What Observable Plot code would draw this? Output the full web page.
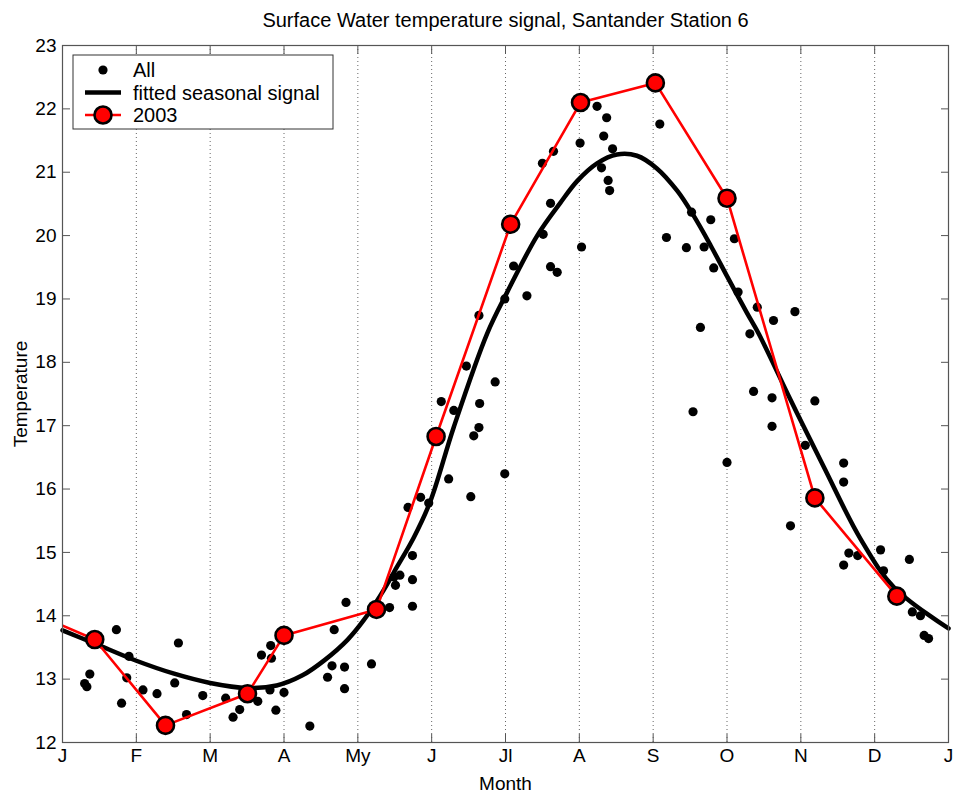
<!DOCTYPE html>
<html>
<head>
<meta charset="utf-8">
<script src="https://cdn.jsdelivr.net/npm/d3@7"></script>
<script src="https://cdn.jsdelivr.net/npm/@observablehq/plot@0.6"></script>
<style>
  html, body { margin: 0; padding: 0; background: #fff; }
</style>
</head>
<body>
<div id="chart"></div>
<script>
// ---- Data (months measured from 1 January, 0..12) ----
const monthTicks = [0, 1, 2, 3, 4, 5, 6, 7, 8, 9, 10, 11, 12];
const monthLabels = ["J", "F", "M", "A", "My", "J", "Jl", "A", "S", "O", "N", "D", "J"];
const tempTicks = [12, 13, 14, 15, 16, 17, 18, 19, 20, 21, 22, 23];

// All observations
const allMonth = [0.30, 0.33, 0.37, 0.73, 0.80, 0.87, 0.90, 1.09, 1.28, 1.52, 1.57, 1.68, 1.90,
  2.21, 2.31, 2.40, 2.645, 2.695, 2.81, 2.82, 2.83, 2.89, 3.00, 3.35, 3.59, 3.65, 3.68, 3.82,
  3.82, 3.84, 4.185, 4.43, 4.49, 4.51, 4.57, 4.74, 4.74, 4.74, 4.68, 4.85, 4.96, 5.13, 5.23,
  5.30, 5.47, 5.53, 5.57, 5.64, 5.65, 5.64, 5.86, 5.99, 5.99, 6.11, 6.29, 6.50, 6.51, 6.61,
  6.61, 6.65, 6.70, 7.01, 7.03, 7.24, 7.30, 7.33, 7.37, 7.39, 7.41, 7.45, 8.09, 8.18, 8.45,
  8.52, 8.54, 8.64, 8.69, 8.78, 8.82, 9.00, 9.10, 9.15, 9.31, 9.36, 9.41, 9.61, 9.61, 9.63,
  9.86, 9.92, 10.06, 10.19, 10.58, 10.58, 10.58, 10.65, 10.77, 11.08, 11.12, 11.47, 11.51,
  11.62, 11.67, 11.73];
const allTemp = [12.93, 12.88, 13.08, 13.78, 12.62, 13.02, 13.36, 12.83, 12.77, 12.94, 13.57, 12.44, 12.74,
  12.70, 12.40, 12.52, 12.65, 13.38, 12.83, 13.53, 13.33, 12.51, 12.79, 12.26, 13.03, 13.21, 13.78, 13.19,
  12.85, 14.21, 13.24, 14.13, 14.61, 14.48, 14.64, 14.57, 14.15, 14.95, 15.71, 15.87, 15.78, 17.38, 16.16,
  17.24, 17.94, 15.88, 16.84, 16.97, 17.35, 18.74, 17.69, 16.24, 19.00, 19.52, 19.05, 21.14, 20.02, 20.51,
  19.51, 21.33, 19.42, 21.46, 19.82, 22.04, 21.07, 21.57, 21.86, 20.87, 20.71, 21.37, 21.76, 19.97, 19.81,
  20.37, 17.22, 18.55, 19.82, 20.25, 19.49, 16.42, 19.95, 19.11, 18.45, 17.54, 18.87, 17.44, 16.99, 18.66,
  15.42, 18.80, 16.69, 17.39, 16.41, 16.11, 14.80, 14.99, 14.95, 15.04, 14.71, 14.89, 14.06,
  14.00, 13.69, 13.64];

// Fitted seasonal signal
const fitMonth = [0, 0.44, 1.0, 1.5, 2.0, 2.5, 2.9, 3.25, 3.55, 3.86, 4.08, 4.31, 4.53, 4.76, 4.98,
  5.30, 5.75, 6.02, 6.43, 6.745, 6.97, 7.24, 7.51, 7.78, 8.05, 8.33, 8.55, 8.78, 9.0,
  9.27, 9.43, 9.86, 10.31, 10.81, 11.26, 12.0];
const fitTemp = [13.77, 13.56, 13.29, 13.09, 12.94, 12.86, 12.90, 13.06, 13.30, 13.62, 13.93, 14.33, 14.77, 15.24, 15.80,
  16.98, 18.45, 19.10, 20.00, 20.52, 20.86, 21.14, 21.28, 21.26, 21.06, 20.70, 20.31, 19.84, 19.36,
  18.78, 18.45, 17.41, 16.35, 15.21, 14.45, 13.80];

// 2003 monthly values (first entry: previous December, drawn outside the axis and clipped)
const m2003 = [-0.70, 0.437, 1.395, 2.506, 3.00, 4.253, 5.06, 6.07, 7.016, 8.03, 9.00, 10.19, 11.30];
const t2003 = [14.20, 13.625, 12.27, 12.77, 13.69, 14.10, 16.83, 20.18, 22.10, 22.41, 20.59, 15.86, 14.31];

// ---- Tables built from the arrays ----
const allData = allMonth.map((m, i) => ({month: m, temp: allTemp[i]}));
const fitData = fitMonth.map((m, i) => ({month: m, temp: fitTemp[i]}));
const data2003 = m2003.map((m, i) => ({month: m, temp: t2003[i]}));
const visible2003 = data2003.filter(d => d.month >= 0);

const frameColor = "#555";
const fontFamily = "'Liberation Sans', Arial, Helvetica, sans-serif";
const tickFont = 19;
const textFont = 20;

const chart = Plot.plot({
  width: 953,
  height: 796,
  marginLeft: 62,
  marginRight: 5,
  marginTop: 45,
  marginBottom: 54,
  style: {fontFamily, fontSize: tickFont + "px", background: "#fff", color: "#000"},
  x: {domain: [0, 12], label: null},
  y: {domain: [12, 23], label: null},
  marks: [
    // dotted month grid
    Plot.ruleX(monthTicks.slice(1, -1), {stroke: "#666", strokeWidth: 1, strokeDasharray: "1,3"}),
    // data
    Plot.dot(allData, {x: "month", y: "temp", r: 4.6, fill: "#000", stroke: "none"}),
    Plot.line(fitData, {x: "month", y: "temp", stroke: "#000", strokeWidth: 4.5, curve: "catmull-rom"}),
    Plot.line(data2003, {x: "month", y: "temp", stroke: "#ff0000", strokeWidth: 2.6, clip: true}),
    Plot.dot(visible2003, {x: "month", y: "temp", r: 8.5, fill: "#ff0000", stroke: "#000", strokeWidth: 2.6}),
    // frame
    Plot.frame({stroke: frameColor, strokeWidth: 1.2}),
    // inward ticks on four sides
    Plot.axisX(monthTicks, {anchor: "bottom", tickSize: 8, dy: -8, tickFormat: () => "", stroke: frameColor, label: null}),
    Plot.axisX(monthTicks, {anchor: "top", tickSize: 8, dy: 8, tickFormat: () => "", stroke: frameColor, label: null}),
    Plot.axisY(tempTicks, {anchor: "left", tickSize: 8, dx: 8, tickFormat: () => "", stroke: frameColor, label: null}),
    Plot.axisY(tempTicks, {anchor: "right", tickSize: 8, dx: -8, tickFormat: () => "", stroke: frameColor, label: null}),
    // tick labels and axis titles
    Plot.axisX(monthTicks, {anchor: "bottom", tickSize: 0, tickPadding: 6,
      tickFormat: (d, i) => monthLabels[i], fontSize: tickFont,
      label: "Month", labelAnchor: "center", labelArrow: "none", labelOffset: 47}),
    Plot.axisY(tempTicks, {anchor: "left", tickSize: 0, tickPadding: 6, fontSize: tickFont,
      tickFormat: d => String(d),
      label: "Temperature", labelAnchor: "center", labelArrow: "none", labelOffset: 49}),
    // title
    Plot.text(["Surface Water temperature signal, Santander Station 6"], {
      frameAnchor: "top", dy: -33, fontSize: textFont, fill: "#000"
    })
  ]
});

document.getElementById("chart").appendChild(chart);

// ---- Legend (drawn inside the axes, upper left) ----
const svg = d3.select(chart);
const lg = svg.append("g").attr("font-family", fontFamily).attr("font-size", textFont)
  .attr("text-anchor", "start");
lg.append("rect").attr("x", 73).attr("y", 55).attr("width", 260).attr("height", 74)
  .attr("fill", "#fff").attr("stroke", "#333").attr("stroke-width", 1);
const entries = [
  {label: "All", kind: "dot"},
  {label: "fitted seasonal signal", kind: "line"},
  {label: "2003", kind: "red"}
];
entries.forEach((e, i) => {
  const cy = 70 + i * 22.5;
  if (e.kind === "dot") {
    lg.append("circle").attr("cx", 103).attr("cy", cy).attr("r", 4.6).attr("fill", "#000");
  } else if (e.kind === "line") {
    lg.append("line").attr("x1", 85).attr("x2", 121).attr("y1", cy).attr("y2", cy)
      .attr("stroke", "#000").attr("stroke-width", 4.5);
  } else {
    lg.append("line").attr("x1", 85).attr("x2", 121).attr("y1", cy).attr("y2", cy)
      .attr("stroke", "#ff0000").attr("stroke-width", 2.6);
    lg.append("circle").attr("cx", 103).attr("cy", cy).attr("r", 8.5).attr("fill", "#ff0000")
      .attr("stroke", "#000").attr("stroke-width", 2.6);
  }
  lg.append("text").attr("x", 133).attr("y", cy).attr("dy", "0.35em").attr("fill", "#000")
    .attr("text-anchor", "start").text(e.label);
});
</script>
</body>
</html>
